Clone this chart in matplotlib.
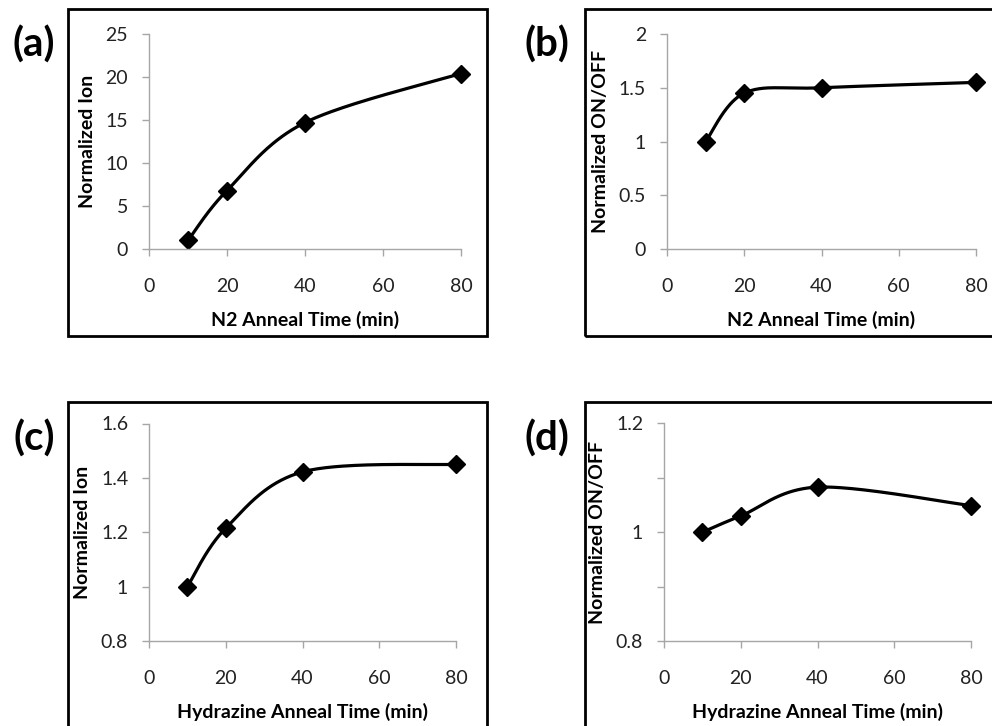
import numpy as np
import matplotlib
matplotlib.use("Agg")
import matplotlib.pyplot as plt
from matplotlib.patches import Rectangle

plt.rcParams['font.family'] = ['Lato', 'DejaVu Sans']

# Anneal times (min)
anneal_time = [10, 20, 40, 80]

# Panel data
n2_ion = [1.0, 6.8, 14.7, 20.4]
n2_onoff = [1.0, 1.45, 1.50, 1.55]
hyd_ion = [1.0, 1.215, 1.422, 1.45]
hyd_onoff = [1.0, 1.03, 1.083, 1.049]

n2_xlabel = "N2 Anneal Time (min)"
hyd_xlabel = "Hydrazine Anneal Time (min)"
ion_ylabel = "Normalized Ion"
onoff_ylabel = "Normalized ON/OFF"
panel_tags = ["(a)", "(b)", "(c)", "(d)"]

x_ticks = [0, 20, 40, 60, 80]

W, H = 992, 726
fig = plt.figure(figsize=(W / 100, H / 100), dpi=100)


def px_axes(x0, x1, ytop, ybot):
    return fig.add_axes([x0 / W, 1 - ybot / H, (x1 - x0) / W, (ybot - ytop) / H])


def smooth_curve(ax, xs, ys, n=60):
    """Cardinal (Catmull-Rom) Bezier smoothing computed in screen space."""
    pts = ax.transData.transform(np.column_stack([xs, ys]))
    m = len(pts)
    out = []
    for i in range(m - 1):
        p0 = pts[max(i - 1, 0)]
        p1 = pts[i]
        p2 = pts[i + 1]
        p3 = pts[min(i + 2, m - 1)]
        c1 = p1 + (p2 - p0) / 6.0
        c2 = p2 - (p3 - p1) / 6.0
        t = np.linspace(0, 1, n)[:, None]
        seg = ((1 - t) ** 3) * p1 + 3 * ((1 - t) ** 2) * t * c1 + 3 * (1 - t) * t ** 2 * c2 + t ** 3 * p2
        out.append(seg if i == 0 else seg[1:])
    curve = np.vstack(out)
    return ax.transData.inverted().transform(curve)


def style_axes(ax, ylim, yticks, ylabels, xlabel, ylabel):
    ax.set_xlim(0, 80)
    ax.set_ylim(*ylim)
    ax.set_xticks(x_ticks)
    ax.set_xticklabels([str(v) for v in x_ticks])
    ax.set_yticks(yticks)
    ax.set_yticklabels(ylabels)
    for s in ["top", "right"]:
        ax.spines[s].set_visible(False)
    for s in ["left", "bottom"]:
        ax.spines[s].set_color("#a6a6a6")
        ax.spines[s].set_linewidth(1.0)
    ax.tick_params(axis="both", direction="out", length=5, width=1.0,
                   color="#a6a6a6", labelsize=14, labelcolor="#222222")
    ax.tick_params(axis="y", pad=10)
    ax.tick_params(axis="x", pad=16)
    ax.set_xlabel(xlabel, fontsize=14, fontweight="bold", labelpad=11, color="black")
    ax.set_ylabel(ylabel, fontsize=14, fontweight="bold", labelpad=7, color="black")
    ax.patch.set_alpha(0)


def draw_series(ax, ys):
    c = smooth_curve(ax, anneal_time, ys)
    ax.plot(c[:, 0], c[:, 1], color="black", lw=2.3, solid_capstyle="round", clip_on=False)
    ax.plot(anneal_time, ys, linestyle="none", marker="D", ms=9.5, color="black", clip_on=False)


# Frames around each panel
frames = [(67.5, 9, 487, 336), (585, 9, 1010, 336), (67.5, 401.5, 487, 740), (585, 401.5, 1010, 740)]
for (x0, y0, x1, y1) in frames:
    fig.patches.append(Rectangle((x0 / W, 1 - y1 / H), (x1 - x0) / W, (y1 - y0) / H,
                                 transform=fig.transFigure, fill=False,
                                 edgecolor="black", linewidth=2.0))

ax_a = px_axes(149, 461, 34, 249)
style_axes(ax_a, (0, 25), [0, 5, 10, 15, 20, 25], ["0", "5", "10", "15", "20", "25"],
           n2_xlabel, ion_ylabel)
draw_series(ax_a, n2_ion)

ax_b = px_axes(667, 976, 34, 249)
style_axes(ax_b, (0, 2), [0, 0.5, 1, 1.5, 2], ["0", "0.5", "1", "1.5", "2"],
           n2_xlabel, onoff_ylabel)
draw_series(ax_b, n2_onoff)

ax_c = px_axes(149, 456, 423.5, 641)
style_axes(ax_c, (0.8, 1.6), [0.8, 1.0, 1.2, 1.4, 1.6], ["0.8", "1", "1.2", "1.4", "1.6"],
           hyd_xlabel, ion_ylabel)
draw_series(ax_c, hyd_ion)

ax_d = px_axes(664, 971, 423.5, 641)
style_axes(ax_d, (0.8, 1.2), [0.8, 0.9, 1.0, 1.1, 1.2], ["0.8", "", "1", "", "1.2"],
           hyd_xlabel, onoff_ylabel)
draw_series(ax_d, hyd_onoff)

# Panel tags
for tag, (cx, cy) in zip(panel_tags, [(34, 45), (547, 45), (34, 439), (547, 439)]):
    fig.text(cx / W, 1 - cy / H, tag, fontsize=29, fontweight="bold",
             ha="center", va="center", color="black")

fig.savefig("out.png", dpi=100, facecolor="white")
